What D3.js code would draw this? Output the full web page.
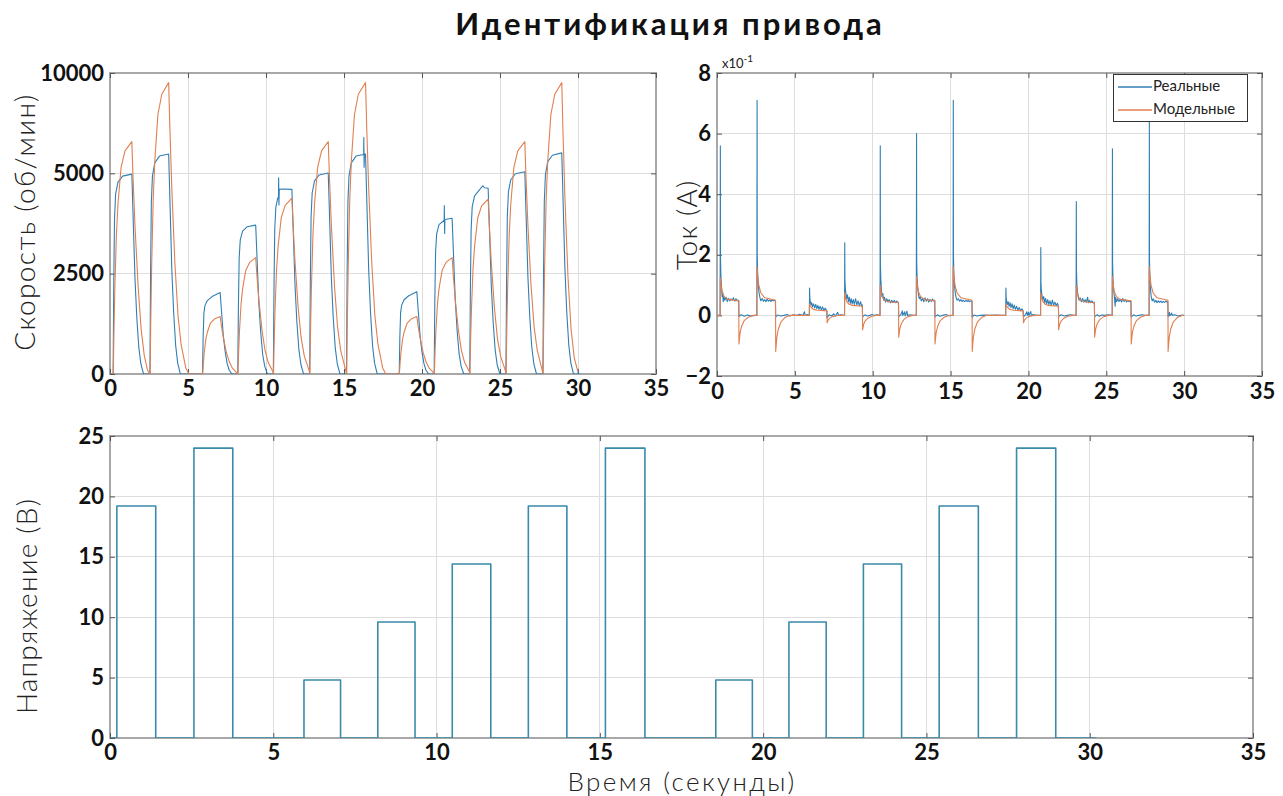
<!DOCTYPE html>
<html>
<head>
<meta charset="utf-8">
<script src="https://cdn.jsdelivr.net/npm/d3@7"></script>
<style>
  body { margin: 0; background: #fff; }
  svg { display: block; }
  .tick text { font-family: Lato, "Noto Sans", sans-serif; font-weight: 700; font-size: 22px; fill: #111; }
</style>
</head>
<body>
<svg id="chart" width="1283" height="796"></svg>
<script>
// ---- texts and ticks ----
const chartTitle = "Идентификация привода";
const speedAxisTitle = "Скорость (об/мин)";
const currentAxisTitle = "Ток (А)";
const voltageAxisTitle = "Напряжение (В)";
const timeAxisTitle = "Время (секунды)";
const seriesNames = ["Реальные", "Модельные"];
const timeTicks = [0, 5, 10, 15, 20, 25, 30, 35];
const speedTicks = [0, 2500, 5000, 7500];
const speedTickLabels = ["0", "2500", "5000", "10000"];
const currentTicks = [-2, 0, 2, 4, 6, 8];
const currentExponent = "-1";
const voltageTicks = [0, 5, 10, 15, 20, 25];

// ---- supply voltage, step changes [time s, volts] ----
const voltageSteps = [
  [0, 0], [0.21, 19.2], [1.40, 0], [2.57, 24.0], [3.76, 0], [5.94, 4.8], [7.06, 0],
  [8.20, 9.6], [9.34, 0], [10.48, 14.4], [11.66, 0], [12.81, 19.2], [13.99, 0],
  [15.17, 24.0], [16.38, 0], [18.55, 4.8], [19.67, 0], [20.79, 9.6], [21.93, 0],
  [23.07, 14.4], [24.24, 0], [25.39, 19.2], [26.59, 0], [27.76, 24.0], [28.96, 0], [30.2, 0]
];

// ---- measured speed [time s, rpm] ----
const speedReal = [
  [0, 0],
  [0.20, 0], [0.24, 2240], [0.29, 3880], [0.36, 4480], [0.51, 4780], [0.81, 4930], [1.40, 4980], [1.50, 3690], [1.60, 2390], [1.72, 1390], [1.85, 650], [1.98, 250], [2.15, 0],
  [2.56, 0], [2.60, 2470], [2.65, 4270], [2.72, 4930], [2.87, 5260], [3.17, 5430], [3.76, 5480], [3.86, 4060], [3.96, 2630], [4.08, 1530], [4.21, 710], [4.34, 270], [4.51, 0],
  [5.93, 0], [5.97, 910], [6.02, 1520], [6.09, 1710], [6.24, 1830], [6.54, 1930], [7.06, 2030], [7.16, 1500], [7.26, 970], [7.38, 570], [7.51, 260], [7.64, 100], [7.81, 0],
  [8.19, 0], [8.23, 1670], [8.28, 2890], [8.35, 3340], [8.50, 3560], [8.80, 3670], [9.34, 3710], [9.44, 2750], [9.54, 1780], [9.66, 1040], [9.79, 480], [9.92, 190], [10.09, 0],
  [10.47, 0], [10.51, 2070], [10.56, 3600], [10.63, 4150], [10.75, 4380], [10.80, 4400], [10.81, 4890], [10.83, 4210], [10.85, 4600], [11.10, 4610], [11.66, 4600], [11.76, 3410], [11.86, 2210], [11.98, 1290], [12.11, 600], [12.24, 230], [12.41, 0],
  [12.80, 0], [12.84, 2250], [12.89, 3910], [12.96, 4510], [13.11, 4810], [13.41, 4960], [13.99, 5010], [14.09, 3710], [14.19, 2400], [14.31, 1400], [14.44, 650], [14.57, 250], [14.74, 0],
  [15.16, 0], [15.20, 2470], [15.25, 4270], [15.32, 4930], [15.47, 5260], [15.77, 5430], [16.26, 5470], [16.27, 5890], [16.29, 5150], [16.31, 5480], [16.38, 5480], [16.48, 4060], [16.58, 2630], [16.70, 1530], [16.83, 710], [16.96, 270], [17.13, 0],
  [18.54, 0], [18.58, 920], [18.63, 1540], [18.70, 1720], [18.85, 1850], [19.15, 1950], [19.67, 2050], [19.77, 1520], [19.87, 980], [19.99, 570], [20.12, 270], [20.25, 100], [20.42, 0],
  [20.78, 0], [20.82, 1750], [20.87, 3030], [20.94, 3490], [21.09, 3720], [21.42, 3830], [21.43, 4200], [21.45, 3500], [21.47, 3850], [21.93, 3880], [22.03, 2870], [22.13, 1860], [22.25, 1090], [22.38, 500], [22.51, 190], [22.68, 0],
  [23.06, 0], [23.10, 2080], [23.15, 3610], [23.22, 4170], [23.37, 4440], [23.67, 4580], [23.90, 4690], [24.00, 4640], [24.24, 4630], [24.34, 3430], [24.44, 2220], [24.56, 1300], [24.69, 600], [24.82, 230], [24.99, 0],
  [25.38, 0], [25.42, 2270], [25.47, 3930], [25.54, 4540], [25.69, 4840], [25.99, 4990], [26.59, 5040], [26.69, 3730], [26.79, 2420], [26.91, 1410], [27.04, 660], [27.17, 250], [27.34, 0],
  [27.75, 0], [27.79, 2480], [27.84, 4300], [27.91, 4960], [28.06, 5290], [28.36, 5450], [28.96, 5510], [29.06, 4080], [29.16, 2640], [29.28, 1540], [29.41, 720], [29.54, 280], [29.71, 0],
  [30.00, 0], [30.02, 120], [30.05, 0]
];

// ---- model speed [time s, rpm] ----
const speedModel = [
  [0, 0],
  [0.21, 0], [0.25, 980], [0.31, 2140], [0.41, 3470], [0.51, 4230], [0.71, 5150], [0.96, 5560], [1.40, 5790], [1.48, 4860], [1.60, 3710], [1.80, 2200], [2.00, 1100], [2.20, 450], [2.40, 100], [2.55, 0],
  [2.57, 0], [2.61, 1230], [2.67, 2690], [2.77, 4360], [2.87, 5300], [3.07, 6460], [3.32, 6970], [3.76, 7260], [3.84, 6100], [3.96, 4650], [4.16, 2760], [4.36, 1450], [4.56, 730], [4.86, 150], [5.06, 0],
  [5.94, 0], [5.98, 240], [6.04, 530], [6.14, 860], [6.24, 1040], [6.44, 1270], [6.69, 1370], [7.06, 1430], [7.14, 1200], [7.26, 920], [7.46, 540], [7.66, 290], [7.86, 140], [8.10, 40],
  [8.20, 0], [8.24, 490], [8.30, 1070], [8.40, 1740], [8.50, 2120], [8.70, 2580], [8.95, 2780], [9.34, 2900], [9.42, 2440], [9.54, 1860], [9.74, 1100], [9.94, 580], [10.14, 290], [10.44, 60],
  [10.48, 0], [10.52, 740], [10.58, 1620], [10.68, 2630], [10.78, 3200], [10.98, 3900], [11.23, 4200], [11.66, 4380], [11.74, 3680], [11.86, 2800], [12.06, 1660], [12.26, 880], [12.46, 440], [12.76, 90],
  [12.81, 0], [12.85, 980], [12.91, 2140], [13.01, 3470], [13.11, 4230], [13.31, 5150], [13.56, 5560], [13.99, 5790], [14.07, 4860], [14.19, 3710], [14.39, 2200], [14.59, 1160], [14.79, 580], [15.09, 120],
  [15.17, 0], [15.21, 1230], [15.27, 2690], [15.37, 4360], [15.47, 5300], [15.67, 6460], [15.92, 6970], [16.38, 7260], [16.46, 6100], [16.58, 4650], [16.78, 2760], [16.98, 1450], [17.18, 730], [17.48, 150], [17.68, 0],
  [18.55, 0], [18.59, 240], [18.65, 530], [18.75, 860], [18.85, 1040], [19.05, 1270], [19.30, 1370], [19.67, 1430], [19.75, 1200], [19.87, 920], [20.07, 540], [20.27, 290], [20.47, 140], [20.75, 30],
  [20.79, 0], [20.83, 490], [20.89, 1070], [20.99, 1740], [21.09, 2120], [21.29, 2580], [21.54, 2780], [21.93, 2900], [22.01, 2440], [22.13, 1860], [22.33, 1100], [22.53, 580], [22.73, 290], [23.03, 60],
  [23.07, 0], [23.11, 740], [23.17, 1610], [23.27, 2620], [23.37, 3180], [23.57, 3880], [23.82, 4190], [24.24, 4360], [24.32, 3660], [24.44, 2790], [24.64, 1660], [24.84, 870], [25.04, 440], [25.34, 90],
  [25.39, 0], [25.43, 980], [25.49, 2140], [25.59, 3470], [25.69, 4230], [25.89, 5150], [26.14, 5560], [26.59, 5790], [26.67, 4860], [26.79, 3710], [26.99, 2200], [27.19, 1160], [27.39, 580], [27.69, 120],
  [27.76, 0], [27.80, 1230], [27.86, 2690], [27.96, 4360], [28.06, 5300], [28.26, 6460], [28.51, 6970], [28.96, 7260], [29.04, 6000], [29.16, 4400], [29.36, 2400], [29.56, 1100], [29.76, 400], [30.00, 50]
];

// ---- measured current [time s, A x10^-1] ----
const currentReal = [
  [0, 0], [0.20, 0], [0.215, 5.6], [0.225, 1.9], [0.25, 1.3], [0.29, 0.95], [0.33, 0.62], [0.36, 0.78], [0.40, 0.45], [0.45, 0.62], [0.50, 0.5], [0.58, 0.6], [0.66, 0.46], [0.74, 0.56], [0.82, 0.48], [0.90, 0.55], [0.98, 0.5], [1.06, 0.58], [1.14, 0.47], [1.22, 0.55], [1.30, 0.5], [1.39, 0.5], [1.41, -0.04], [1.55, 0.02], [1.75, -0.03], [1.95, 0.01], [2.20, -0.02], [2.45, 0],
  [2.56, 0], [2.575, 7.1], [2.585, 2.0], [2.61, 1.4], [2.65, 1.0], [2.70, 0.75], [2.76, 0.58], [2.82, 0.48], [2.90, 0.56], [2.98, 0.47], [3.06, 0.52], [3.14, 0.45], [3.22, 0.53], [3.30, 0.47], [3.38, 0.51], [3.46, 0.46], [3.54, 0.5], [3.62, 0.48], [3.70, 0.5], [3.75, 0.49], [3.77, -0.05], [3.90, 0.01], [4.10, -0.02], [4.30, 0], [4.50, 0.03], [4.70, -0.02], [4.90, 0.02], [5.10, 0], [5.30, 0.04], [5.50, 0], [5.62, 0.12], [5.66, 0], [5.80, 0.03], [5.93, 0],
  [5.945, 0.9], [5.96, 0.6], [5.99, 0.45], [6.03, 0.35], [6.08, 0.42], [6.13, 0.28], [6.20, 0.38], [6.27, 0.25], [6.34, 0.36], [6.41, 0.22], [6.48, 0.33], [6.55, 0.2], [6.62, 0.3], [6.70, 0.18], [6.78, 0.28], [6.86, 0.16], [6.94, 0.24], [7.05, 0.15], [7.07, -0.08], [7.20, 0.02], [7.35, -0.02], [7.50, 0.05], [7.60, -0.02], [7.75, 0.1], [7.80, 0], [7.95, 0.02], [8.10, 0], [8.19, 0],
  [8.205, 2.4], [8.215, 1.2], [8.24, 0.9], [8.28, 0.7], [8.33, 0.55], [8.38, 0.68], [8.44, 0.45], [8.50, 0.6], [8.56, 0.4], [8.62, 0.55], [8.68, 0.38], [8.75, 0.52], [8.82, 0.36], [8.90, 0.55], [8.98, 0.35], [9.06, 0.48], [9.14, 0.32], [9.22, 0.45], [9.30, 0.3], [9.33, 0.35], [9.35, -0.05], [9.50, 0.02], [9.65, -0.02], [9.80, 0], [9.95, 0.03], [10.10, 0], [10.30, 0.02], [10.47, 0],
  [10.485, 5.6], [10.495, 1.7], [10.52, 1.2], [10.56, 0.85], [10.60, 0.62], [10.65, 0.72], [10.70, 0.5], [10.76, 0.6], [10.82, 0.44], [10.90, 0.55], [10.98, 0.45], [11.06, 0.52], [11.14, 0.42], [11.22, 0.5], [11.30, 0.43], [11.38, 0.49], [11.46, 0.42], [11.54, 0.47], [11.65, 0.42], [11.67, -0.04], [11.80, 0.02], [11.90, 0.15], [11.93, 0], [12.05, 0.12], [12.08, -0.02], [12.20, 0.14], [12.23, 0], [12.40, 0.02], [12.60, 0], [12.80, 0],
  [12.815, 6.0], [12.825, 1.8], [12.85, 1.25], [12.89, 0.9], [12.94, 0.68], [12.99, 0.55], [13.05, 0.62], [13.12, 0.48], [13.20, 0.56], [13.28, 0.45], [13.36, 0.58], [13.44, 0.47], [13.52, 0.55], [13.60, 0.44], [13.68, 0.52], [13.76, 0.46], [13.84, 0.54], [13.92, 0.48], [13.98, 0.5], [14.00, -0.05], [14.15, 0.02], [14.30, -0.03], [14.50, 0], [14.70, 0.03], [14.90, -0.01], [15.16, 0],
  [15.175, 7.1], [15.185, 2.0], [15.21, 1.4], [15.25, 1.0], [15.30, 0.75], [15.36, 0.58], [15.42, 0.5], [15.50, 0.55], [15.58, 0.47], [15.66, 0.52], [15.74, 0.46], [15.82, 0.5], [15.90, 0.45], [15.98, 0.5], [16.06, 0.46], [16.14, 0.49], [16.22, 0.45], [16.30, 0.48], [16.37, 0.46], [16.39, -0.06], [16.50, 0.01], [16.70, -0.02], [16.90, 0], [17.20, 0.01], [17.50, 0], [17.90, 0.01], [18.20, 0], [18.54, 0],
  [18.555, 0.9], [18.57, 0.6], [18.60, 0.48], [18.64, 0.36], [18.70, 0.45], [18.76, 0.3], [18.82, 0.42], [18.88, 0.26], [18.95, 0.38], [19.02, 0.22], [19.09, 0.34], [19.16, 0.2], [19.24, 0.3], [19.32, 0.17], [19.40, 0.26], [19.50, 0.15], [19.58, 0.22], [19.66, 0.14], [19.68, -0.05], [19.80, 0.02], [19.90, 0.12], [19.93, 0], [20.00, 0.1], [20.03, 0], [20.15, 0.13], [20.18, 0], [20.30, 0.03], [20.50, 0], [20.78, 0],
  [20.795, 2.24], [20.805, 1.1], [20.83, 0.85], [20.87, 0.65], [20.92, 0.52], [20.98, 0.62], [21.04, 0.42], [21.10, 0.56], [21.17, 0.38], [21.24, 0.52], [21.31, 0.36], [21.38, 0.48], [21.46, 0.34], [21.54, 0.5], [21.62, 0.33], [21.70, 0.44], [21.78, 0.32], [21.86, 0.4], [21.92, 0.32], [21.94, -0.04], [22.10, 0.02], [22.30, -0.02], [22.50, 0], [22.70, 0.02], [22.90, 0], [23.06, 0],
  [23.075, 3.76], [23.085, 1.5], [23.11, 1.05], [23.15, 0.78], [23.20, 0.6], [23.26, 0.5], [23.32, 0.58], [23.40, 0.45], [23.48, 0.56], [23.56, 0.44], [23.64, 0.52], [23.72, 0.43], [23.80, 0.6], [23.85, 0.42], [23.92, 0.5], [24.00, 0.42], [24.08, 0.48], [24.16, 0.41], [24.23, 0.44], [24.25, -0.05], [24.40, 0.02], [24.55, -0.03], [24.70, 0.01], [24.90, 0], [25.10, 0.02], [25.38, 0],
  [25.395, 5.5], [25.405, 1.7], [25.43, 1.2], [25.47, 0.85], [25.52, 0.62], [25.57, 0.3], [25.60, 0.6], [25.66, 0.45], [25.74, 0.55], [25.82, 0.46], [25.90, 0.53], [25.98, 0.44], [26.06, 0.56], [26.14, 0.46], [26.22, 0.52], [26.30, 0.44], [26.38, 0.5], [26.46, 0.45], [26.58, 0.47], [26.60, -0.05], [26.75, 0.02], [26.90, -0.02], [27.10, 0], [27.30, 0.02], [27.50, 0], [27.75, 0],
  [27.765, 6.5], [27.775, 1.8], [27.80, 1.25], [27.84, 0.85], [27.89, 0.6], [27.95, 0.48], [28.02, 0.55], [28.10, 0.44], [28.18, 0.5], [28.26, 0.42], [28.34, 0.48], [28.42, 0.43], [28.50, 0.47], [28.58, 0.42], [28.66, 0.46], [28.74, 0.43], [28.82, 0.47], [28.90, 0.44], [28.95, 0.46], [28.97, -0.05], [29.05, 0.1], [29.08, -0.02], [29.20, 0.08], [29.23, 0], [29.40, 0.02], [29.60, -0.02], [29.80, 0], [30.00, 0]
];

// ---- model current [time s, A x10^-1] ----
const currentModel = [
  [0, 0],
  [0.20, 0], [0.21, 1.25], [0.26, 1.0], [0.33, 0.78], [0.46, 0.62], [0.71, 0.53], [1.40, 0.48], [1.41, -0.94], [1.48, -0.58], [1.58, -0.36], [1.75, -0.17], [2.00, -0.06], [2.30, 0],
  [2.56, 0], [2.57, 1.62], [2.62, 1.28], [2.69, 0.98], [2.82, 0.74], [3.07, 0.58], [3.76, 0.5], [3.77, -1.19], [3.84, -0.73], [3.94, -0.45], [4.11, -0.21], [4.36, -0.07], [4.66, 0],
  [5.93, 0], [5.94, 0.38], [5.99, 0.32], [6.06, 0.26], [6.19, 0.2], [6.44, 0.17], [7.06, 0.15], [7.07, -0.24], [7.14, -0.15], [7.24, -0.09], [7.41, -0.04], [7.66, -0.01], [7.96, 0],
  [8.19, 0], [8.20, 0.75], [8.25, 0.6], [8.32, 0.48], [8.45, 0.38], [8.70, 0.33], [9.34, 0.3], [9.35, -0.48], [9.42, -0.29], [9.52, -0.18], [9.69, -0.09], [9.94, -0.03], [10.24, 0],
  [10.47, 0], [10.48, 1.0], [10.53, 0.8], [10.60, 0.64], [10.73, 0.51], [10.98, 0.45], [11.66, 0.42], [11.67, -0.72], [11.74, -0.44], [11.84, -0.27], [12.01, -0.13], [12.26, -0.04], [12.56, 0],
  [12.80, 0], [12.81, 1.28], [12.86, 1.02], [12.93, 0.8], [13.06, 0.63], [13.31, 0.53], [13.99, 0.48], [14.00, -0.94], [14.07, -0.58], [14.17, -0.36], [14.34, -0.17], [14.59, -0.06], [14.89, 0],
  [15.16, 0], [15.17, 1.62], [15.22, 1.28], [15.29, 0.98], [15.42, 0.74], [15.67, 0.58], [16.38, 0.5], [16.39, -1.19], [16.46, -0.73], [16.56, -0.45], [16.73, -0.21], [16.98, -0.07], [17.28, 0],
  [18.54, 0], [18.55, 0.38], [18.60, 0.32], [18.67, 0.26], [18.80, 0.2], [19.05, 0.17], [19.67, 0.15], [19.68, -0.24], [19.75, -0.15], [19.85, -0.09], [20.02, -0.04], [20.27, -0.01], [20.57, 0],
  [20.78, 0], [20.79, 0.75], [20.84, 0.6], [20.91, 0.48], [21.04, 0.38], [21.29, 0.33], [21.93, 0.3], [21.94, -0.48], [22.01, -0.29], [22.11, -0.18], [22.28, -0.09], [22.53, -0.03], [22.83, 0],
  [23.06, 0], [23.07, 1.0], [23.12, 0.8], [23.19, 0.64], [23.32, 0.51], [23.57, 0.45], [24.24, 0.42], [24.25, -0.72], [24.32, -0.44], [24.42, -0.27], [24.59, -0.13], [24.84, -0.04], [25.14, 0],
  [25.38, 0], [25.39, 1.28], [25.44, 1.02], [25.51, 0.8], [25.64, 0.63], [25.89, 0.53], [26.59, 0.48], [26.60, -0.94], [26.67, -0.58], [26.77, -0.36], [26.94, -0.17], [27.19, -0.06], [27.49, 0],
  [27.75, 0], [27.76, 1.62], [27.81, 1.28], [27.88, 0.98], [28.01, 0.74], [28.26, 0.58], [28.96, 0.5], [28.97, -1.19], [29.04, -0.73], [29.14, -0.45], [29.31, -0.21], [29.56, -0.07], [29.86, 0], [30.00, 0]
];

// ---- drawing ----
const BLUE = "#2f7fb5";
const ORANGE = "#e07f50";
const VOLT = "#3a8bab";
const GRID = "#dedede";
const FRAME = "#a8a8a8";
const TICK = "#555";
const LABEL_FONT = "Lato, 'Noto Sans', sans-serif";

const svg = d3.select("#chart");

svg.append("text")
  .attr("x", 670).attr("y", 35)
  .attr("text-anchor", "middle")
  .style("font-family", LABEL_FONT).style("font-weight", 700).style("font-size", "31px")
  .style("letter-spacing", "3px")
  .attr("fill", "#111")
  .text(chartTitle);

function makePanel(id, left, top, right, bottom, xDomain, yDomain, yTicks, yTickFormat, xPad) {
  const x = d3.scaleLinear().domain(xDomain).range([left, right]);
  const y = d3.scaleLinear().domain(yDomain).range([bottom, top]);
  const g = svg.append("g");

  g.append("clipPath").attr("id", id)
    .append("rect").attr("x", left).attr("y", top).attr("width", right - left).attr("height", bottom - top);

  // grid
  g.append("g").selectAll("line").data(timeTicks.filter(d => d > xDomain[0] && d < xDomain[1])).join("line")
    .attr("x1", d => x(d)).attr("x2", d => x(d)).attr("y1", top).attr("y2", bottom)
    .attr("stroke", GRID).attr("stroke-width", 1).attr("shape-rendering", "crispEdges");
  g.append("g").selectAll("line").data(yTicks.filter(d => d > yDomain[0] && d < yDomain[1])).join("line")
    .attr("x1", left).attr("x2", right).attr("y1", d => y(d)).attr("y2", d => y(d))
    .attr("stroke", GRID).attr("stroke-width", 1).attr("shape-rendering", "crispEdges");

  // frame
  g.append("rect").attr("x", left).attr("y", top).attr("width", right - left).attr("height", bottom - top)
    .attr("fill", "none").attr("stroke", FRAME).attr("stroke-width", 1.2).attr("shape-rendering", "crispEdges");

  // axes with inward ticks
  const ax = g.append("g").attr("transform", `translate(0,${bottom})`)
    .call(d3.axisBottom(x).tickValues(timeTicks).tickSize(-5).tickSizeOuter(0).tickPadding(xPad).tickFormat(d3.format("d")));
  const ay = g.append("g").attr("transform", `translate(${left},0)`)
    .call(d3.axisLeft(y).tickValues(yTicks).tickSize(-5).tickSizeOuter(0).tickPadding(6).tickFormat(yTickFormat));
  const at = g.append("g").attr("transform", `translate(0,${top})`)
    .call(d3.axisTop(x).tickValues(timeTicks).tickSize(-5).tickSizeOuter(0).tickFormat(""));
  const ar = g.append("g").attr("transform", `translate(${right},0)`)
    .call(d3.axisRight(y).tickValues(yTicks).tickSize(-5).tickSizeOuter(0).tickFormat(""));
  [ax, ay, at, ar].forEach(a => {
    a.select(".domain").remove();
    a.selectAll(".tick line").attr("stroke", TICK).attr("stroke-width", 1);
  });
  return { g, x, y };
}

function drawSeries(p, clip, data, color, width, curve) {
  const line = d3.line().x(d => p.x(d[0])).y(d => p.y(d[1])).curve(curve || d3.curveLinear);
  p.g.append("path").datum(data)
    .attr("clip-path", `url(#${clip})`)
    .attr("d", line).attr("fill", "none")
    .attr("stroke", color).attr("stroke-width", width).attr("stroke-linejoin", "round");
}

function axisTitle(text, cx, cy, rotate, size, spacing) {
  svg.append("text")
    .attr("transform", `translate(${cx},${cy})` + (rotate ? " rotate(-90)" : ""))
    .attr("text-anchor", "middle")
    .style("font-family", LABEL_FONT).style("font-weight", 300).style("font-size", size + "px")
    .style("letter-spacing", spacing + "px")
    .attr("fill", "#222")
    .text(text);
}

// speed panel
const pSpeed = makePanel("clipSpeed", 110, 73, 656, 374, [0, 35], [0, 7500], speedTicks,
  d => speedTickLabels[speedTicks.indexOf(d)], 6);
drawSeries(pSpeed, "clipSpeed", speedReal, BLUE, 1.1);
drawSeries(pSpeed, "clipSpeed", speedModel, ORANGE, 1.1);
axisTitle(speedAxisTitle, 35, 222, true, 28, 1.4);

// current panel
const pCur = makePanel("clipCur", 717, 73, 1262, 376, [0, 35], [-2, 8], currentTicks, d3.format("d"), 7);
drawSeries(pCur, "clipCur", currentReal, BLUE, 1.1);
drawSeries(pCur, "clipCur", currentModel, ORANGE, 1.1);
axisTitle(currentAxisTitle, 697, 225, true, 28, 1.2);

// exponent marker
const expText = svg.append("text").attr("x", 722).attr("y", 68)
  .style("font-family", LABEL_FONT).style("font-size", "13px").attr("fill", "#222");
expText.append("tspan").text("x10");
expText.append("tspan").attr("dy", -6).style("font-size", "10px").text(currentExponent);

// legend
const lg = svg.append("g");
lg.append("rect").attr("x", 1113).attr("y", 74).attr("width", 134).attr("height", 47)
  .attr("fill", "#fff").attr("stroke", "#333").attr("stroke-width", 1).attr("shape-rendering", "crispEdges");
[BLUE, ORANGE].forEach((c, i) => {
  const yy = 87 + i * 23;
  lg.append("line").attr("x1", 1118).attr("x2", 1152).attr("y1", yy).attr("y2", yy)
    .attr("stroke", c).attr("stroke-width", 1.3);
  lg.append("text").attr("x", 1153).attr("y", yy).attr("dominant-baseline", "middle")
    .style("font-family", LABEL_FONT).style("font-size", "15px").attr("fill", "#222")
    .text(seriesNames[i]);
});

// voltage panel
const pVolt = makePanel("clipVolt", 110, 436, 1253, 738, [0, 35], [0, 25], voltageTicks, d3.format("d"), 6);
drawSeries(pVolt, "clipVolt", voltageSteps, VOLT, 1.6, d3.curveStepAfter);
axisTitle(voltageAxisTitle, 37, 606, true, 28, 1.2);
axisTitle(timeAxisTitle, 682, 791, false, 26, 2.4);
</script>
</body>
</html>
